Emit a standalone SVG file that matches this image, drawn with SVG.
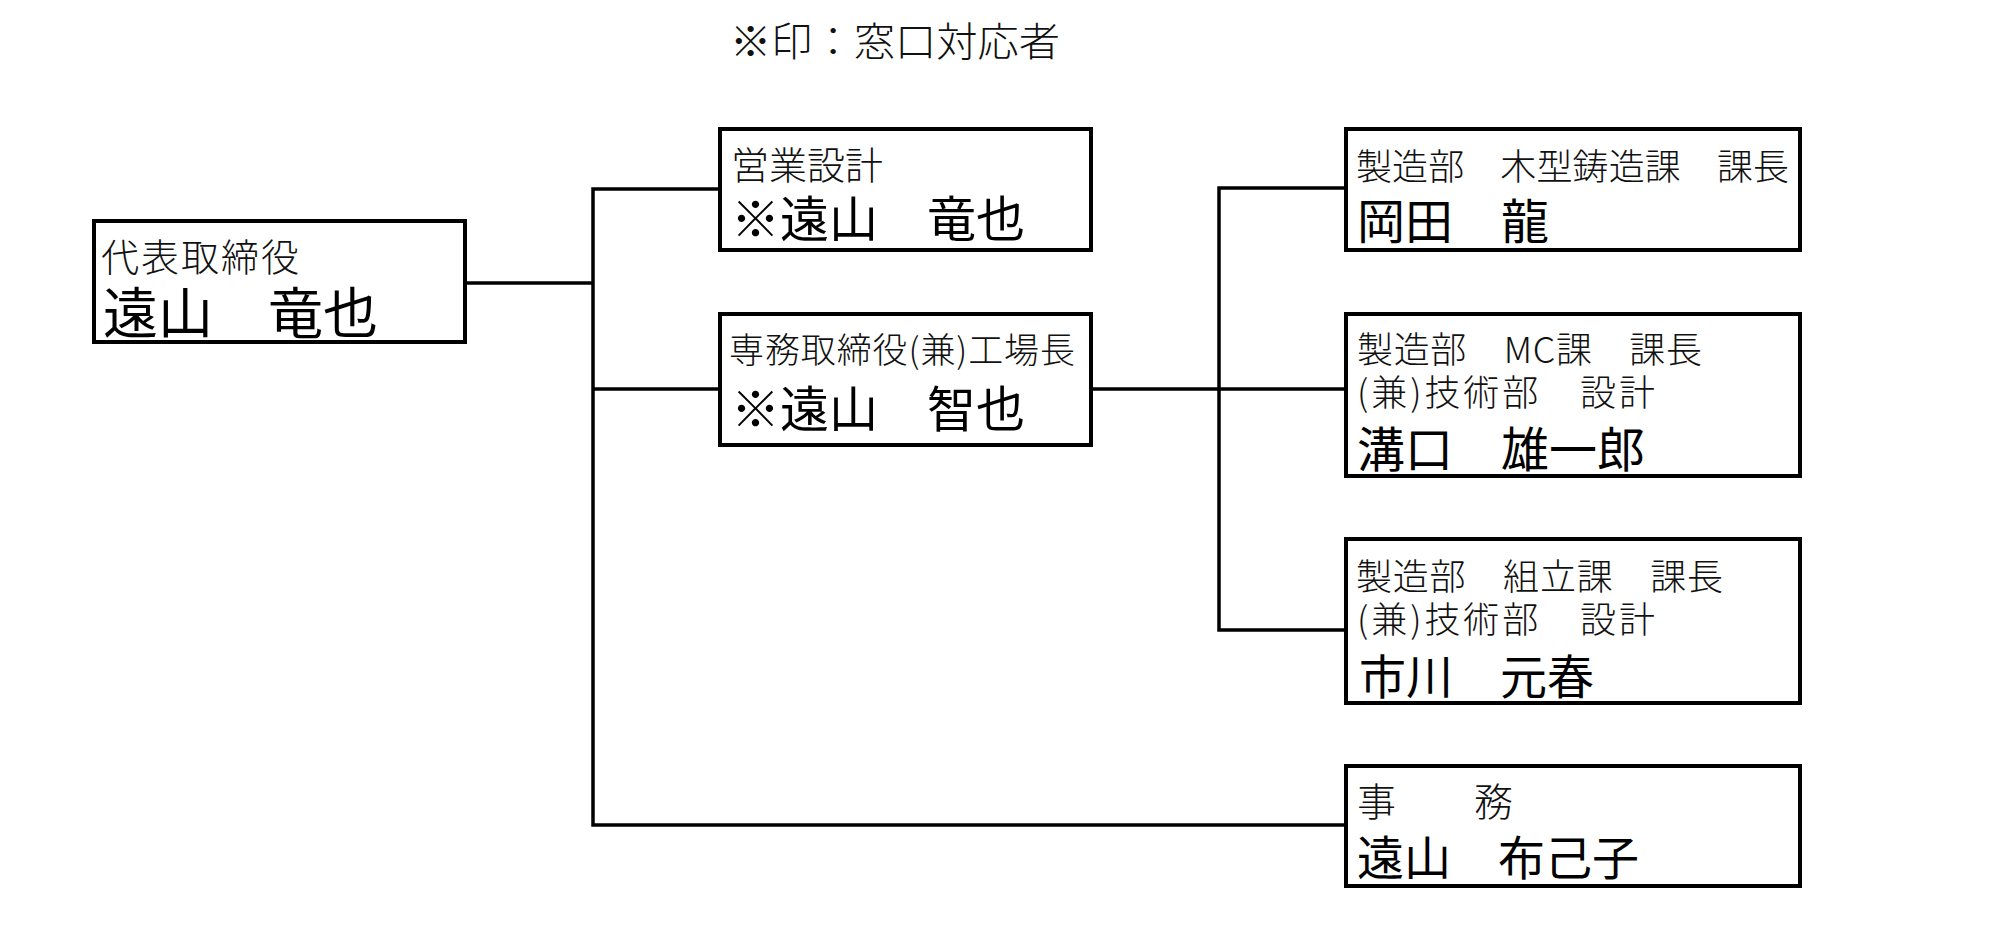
<svg xmlns="http://www.w3.org/2000/svg" width="2000" height="946" viewBox="0 0 2000 946">
<style>
.box{fill:#fff;stroke:#000;stroke-width:4}
.conn{fill:none;stroke:#000;stroke-width:3.5}
.t{font-family:"Noto Sans CJK JP","Noto Sans CJK SC",sans-serif;fill:#111;font-weight:300}
.n{font-family:"Noto Sans CJK JP","Noto Sans CJK SC",sans-serif;fill:#000;font-weight:400}
</style>
<rect width="2000" height="946" fill="#fff"/>
<text class="t" x="730" y="56" font-size="40" textLength="330" lengthAdjust="spacingAndGlyphs">※印：窓口対応者</text>
<g id="connectors">
<polyline class="conn" points="467,283 593,283"/>
<polyline class="conn" points="718,189 593,189 593,825 1344,825"/>
<polyline class="conn" points="593,389 718,389"/>
<polyline class="conn" points="1093,389 1344,389"/>
<polyline class="conn" points="1344,188 1219,188 1219,630 1344,630"/>
</g>
<g id="node-ceo">
<rect class="box" x="94" y="221" width="371" height="121"/>
<text class="t" x="101" y="271" font-size="38" textLength="198">代表取締役</text>
<text class="n" x="103" y="333" font-size="55">遠山　竜也</text>
</g>
<g id="node-sales">
<rect class="box" x="720" y="129" width="371" height="121"/>
<text class="t" x="731" y="179" font-size="38">営業設計</text>
<text class="n" x="731" y="237" font-size="49">※遠山　竜也</text>
</g>
<g id="node-director">
<rect class="box" x="720" y="314" width="371" height="131"/>
<text class="t" x="729" y="363" font-size="35" textLength="346">専務取締役(兼)工場長</text>
<text class="n" x="731" y="427" font-size="49">※遠山　智也</text>
</g>
<g id="node-okada">
<rect class="box" x="1346" y="129" width="454" height="121"/>
<text class="t" x="1356" y="180" font-size="36" textLength="433">製造部　木型鋳造課　課長</text>
<text class="n" x="1357" y="239" font-size="48">岡田　龍</text>
</g>
<g id="node-mizoguchi">
<rect class="box" x="1346" y="314" width="454" height="162"/>
<text class="t" x="1357" y="363" font-size="36" textLength="345">製造部　MC課　課長</text>
<text class="t" x="1357" y="406" font-size="36" textLength="298">(兼)技術部　設計</text>
<text class="n" x="1357" y="467" font-size="48">溝口　雄一郎</text>
</g>
<g id="node-ichikawa">
<rect class="box" x="1346" y="539" width="454" height="164"/>
<text class="t" x="1356" y="590" font-size="36" textLength="367">製造部　組立課　課長</text>
<text class="t" x="1357" y="633" font-size="36" textLength="298">(兼)技術部　設計</text>
<text class="n" x="1359" y="694" font-size="47">市川　元春</text>
</g>
<g id="node-office">
<rect class="box" x="1346" y="766" width="454" height="120"/>
<text class="t" x="1357" y="816" font-size="39">事　　務</text>
<text class="n" x="1357" y="875" font-size="47">遠山　布己子</text>
</g>
</svg>
